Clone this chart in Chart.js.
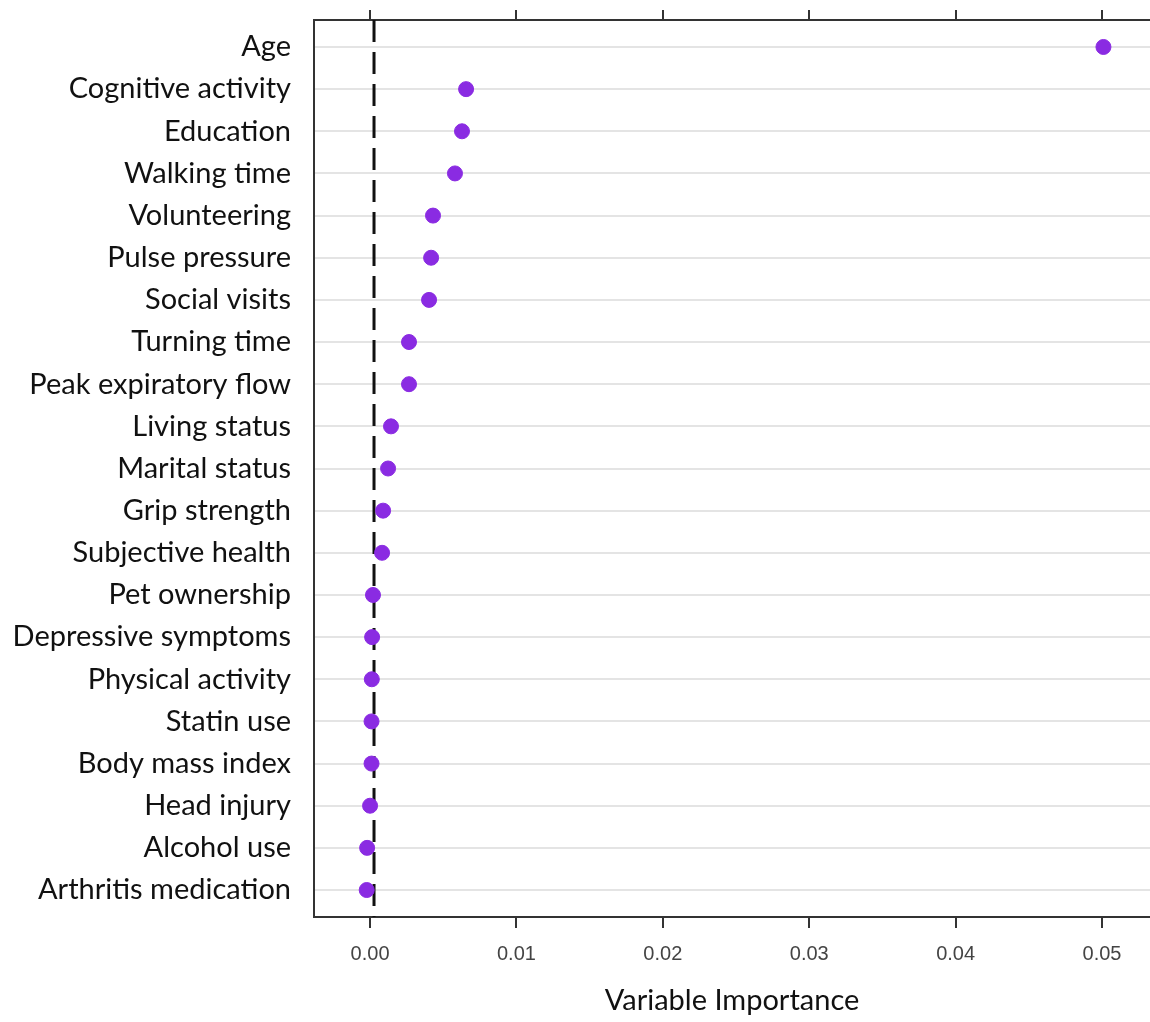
<!DOCTYPE html>
<html>
<head>
<meta charset="utf-8">
<script src="https://cdn.jsdelivr.net/npm/chart.js@4.4.1/dist/chart.umd.min.js"></script>
<style>
  html, body { margin: 0; padding: 0; background: #fff; }
  canvas { display: block; }
</style>
</head>
<body>
<canvas id="vimpChart" width="1150" height="1022"></canvas>
<script>
// ─── DATA ──────────────────────────────────────────────────
const variables = [
  'Age', 'Cognitive activity', 'Education', 'Walking time', 'Volunteering',
  'Pulse pressure', 'Social visits', 'Turning time', 'Peak expiratory flow',
  'Living status', 'Marital status', 'Grip strength', 'Subjective health',
  'Pet ownership', 'Depressive symptoms', 'Physical activity', 'Statin use',
  'Body mass index', 'Head injury', 'Alcohol use', 'Arthritis medication'
];

const importance = [
  0.0501, 0.00656, 0.00628, 0.0058, 0.0043,
  0.00417, 0.00403, 0.00266, 0.00266,
  0.00143, 0.00123, 0.00089, 0.00082,
  0.0002, 0.00014, 0.00012, 0.0001,
  0.0001, 0.0, -0.0002, -0.00023
];

const xTicks = [0.00, 0.01, 0.02, 0.03, 0.04, 0.05];
const cutoff = 0.00027;   // dashed reference line

// ─── AXIS RANGE ────────────────────────────────────────────
const X_MIN = -0.00383;
const X_MAX = 0.05328;
const Y_MIN = -0.64;
const Y_MAX = variables.length - 1 + 0.64;

const points = importance.map((v, i) => ({ x: v, y: i }));
const refLine = [{ x: cutoff, y: Y_MIN }, { x: cutoff, y: Y_MAX }];

// no extra room for overhanging tick labels
function noPadding(s) {
  s.paddingLeft = 0;
  s.paddingRight = 0;
  s.paddingTop = 0;
  s.paddingBottom = 0;
}

// ─── CHART ─────────────────────────────────────────────────
const ctx = document.getElementById('vimpChart').getContext('2d');
new Chart(ctx, {
  type: 'scatter',
  data: {
    datasets: [
      {
        label: 'cutoff',
        data: refLine,
        showLine: true,
        borderColor: '#111',
        borderWidth: 3,
        borderDash: [22, 10],
        pointRadius: 0,
        order: 2
      },
      {
        label: 'Variable Importance',
        data: points,
        backgroundColor: '#8a2be2',
        borderColor: '#8a2be2',
        pointRadius: 7.5,
        order: 1
      }
    ]
  },
  options: {
    responsive: false,
    animation: false,
    layout: { padding: 0, autoPadding: false },
    plugins: {
      legend: { display: false },
      tooltip: { enabled: false }
    },
    scales: {
      x: {
        type: 'linear',
        position: 'bottom',
        min: X_MIN,
        max: X_MAX,
        afterBuildTicks: s => { s.ticks = xTicks.map(v => ({ value: v })); },
        afterFit: s => { s.height = 105; noPadding(s); },
        border: { display: true, color: '#333', width: 2 },
        grid: { drawOnChartArea: false, drawTicks: true, tickLength: 11, color: '#333', lineWidth: 2 },
        ticks: {
          color: '#444',
          padding: 14,
          maxRotation: 0,
          font: { family: 'Liberation Sans', size: 20 },
          callback: v => v.toFixed(2)
        },
        title: {
          display: true,
          text: 'Variable Importance',
          color: '#111',
          font: { family: 'Lato', size: 29 },
          padding: { top: 0, bottom: 4 }
        }
      },
      x2: {
        type: 'linear',
        position: 'top',
        min: X_MIN,
        max: X_MAX,
        afterBuildTicks: s => { s.ticks = xTicks.map(v => ({ value: v })); },
        afterFit: s => { s.height = 20; noPadding(s); },
        border: { display: true, color: '#333', width: 2 },
        grid: { drawOnChartArea: false, drawTicks: true, tickLength: 10, color: '#333', lineWidth: 2 },
        ticks: { display: false }
      },
      y: {
        type: 'linear',
        reverse: true,
        min: Y_MIN,
        max: Y_MAX,
        afterBuildTicks: s => { s.ticks = variables.map((_, i) => ({ value: i })); },
        afterFit: s => { s.width = 314; noPadding(s); },
        border: { display: true, color: '#333', width: 2 },
        grid: { drawTicks: false, color: '#e4e4e4', lineWidth: 2 },
        ticks: {
          color: '#111',
          padding: 23,
          autoSkip: false,
          font: { family: 'Lato', size: 29 },
          callback: v => variables[v]
        }
      }
    }
  }
});
</script>
</body>
</html>
